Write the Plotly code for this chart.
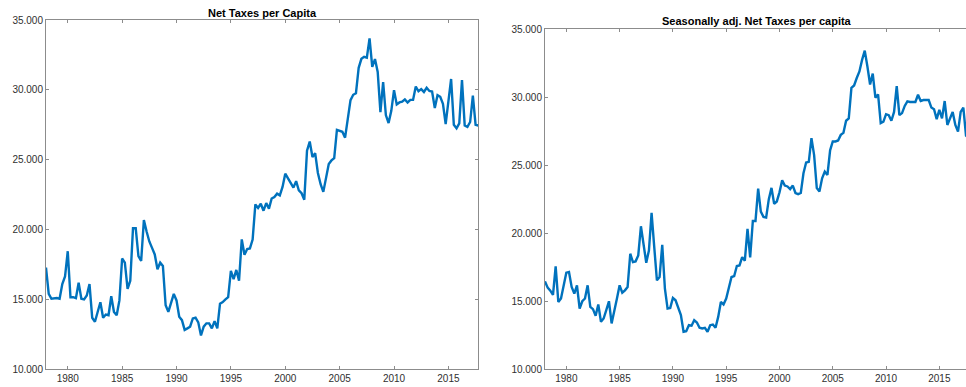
import plotly.graph_objects as go

# Quarterly observations, 1978Q1 .. 2017Q4
start_year = 1978
n_quarters = 160
quarters = [start_year + i / 4 for i in range(n_quarters)]

# Net taxes per capita (raw)
net_taxes = [
    17280, 15400, 15050, 15100,
    15100, 15050, 16100, 16640,
    18450, 15160, 15160, 15090,
    16200, 15050, 15000, 15280,
    16100, 13690, 13400, 14100,
    14800, 13690, 13920, 13870,
    15230, 14100, 13870, 14930,
    17930, 17630, 15750, 16340,
    20100, 20100, 18100, 17750,
    20680, 19860, 19150, 18690,
    18220, 17160, 17630, 17390,
    14580, 14110, 14810, 15400,
    14930, 13760, 13520, 12820,
    12930, 13050, 13640, 13690,
    13360, 12420, 13050, 13290,
    13290, 12930, 13450, 12930,
    14700, 14810, 15000, 15160,
    17040, 16460, 17110, 16340,
    19300, 18200, 18610, 18650,
    19280, 21800, 21550, 21850,
    21350, 21900, 21500, 22220,
    22330, 22570, 22450, 23050,
    24000, 23650, 23300, 23000,
    23470, 22800, 22600, 22140,
    25650, 26300, 25200, 25470,
    24050, 23250, 22700, 23750,
    24700, 24950, 25120, 27140,
    27060, 27000, 26580, 28120,
    29260, 29650, 29760, 31580,
    32220, 32360, 32300, 33680,
    31640, 32200, 31280, 28400,
    30550, 28200, 27620, 28500,
    29980, 28960, 29100, 29150,
    29320, 29100, 29280, 29280,
    30240, 29900, 30050, 29850,
    30150, 29920, 29880, 28700,
    29620, 29500, 29000, 27550,
    29000, 30780, 27500, 27250,
    27600, 30700, 27450, 27350,
    27700, 29580, 27500, 27450,
]

# Net taxes per capita, seasonally adjusted
net_taxes_sa = [
    16460, 16000, 15780, 15460,
    17560, 14950, 15200, 16170,
    17100, 17150, 16050, 15560,
    16170, 14460, 15000, 15200,
    16170, 14590, 14420, 13930,
    14760, 13490, 13730, 14340,
    15000, 13370, 14220, 15200,
    16170, 15630, 15800, 16050,
    18490, 17880, 17930, 18370,
    20510, 19100, 17830, 18730,
    21490, 18980, 16540, 16780,
    19150, 15930, 14460, 14510,
    15240, 15070, 14460, 13980,
    12760, 12800, 13240, 13200,
    13610, 13440, 13050, 13000,
    13050, 12760, 13240, 13290,
    13050, 13850, 14950, 14760,
    15200, 15930, 16780, 16850,
    17590, 17630, 18240, 17980,
    20320, 18220, 20900, 20900,
    23270, 21580, 21200, 21150,
    22500, 23330, 22160, 22330,
    23000, 23880, 23500, 23430,
    23240, 23500, 22950, 22870,
    22950, 24400, 25190, 25240,
    26980, 25730, 23310, 23070,
    24030, 24520, 24280, 26090,
    26740, 26740, 26810, 27220,
    27370, 28260, 28430, 30680,
    30850, 31400, 31880, 32730,
    33410, 32250, 30920, 31720,
    29950, 30190, 28090, 28190,
    28740, 28670, 28260, 28910,
    30800, 28670, 28820, 29350,
    29690, 29640, 29640, 29640,
    30170, 29710, 29780, 29780,
    29780, 29230, 29110, 28380,
    29060, 28430, 29710, 27950,
    28500, 28910, 27950, 27460,
    28910, 29230, 27170, 27000,
]

x_ticks = [1980, 1985, 1990, 1995, 2000, 2005, 2010, 2015]
y_ticks = [10000, 15000, 20000, 25000, 30000, 35000]
titles = ["Net Taxes per Capita", "Seasonally adj. Net Taxes per capita"]

W, H = 966, 387
LINE_BLUE = "#0072BD"
AXIS_GRAY = "#8c8c8c"
TICK_TEXT = "#303030"
FONT = "Liberation Sans, Arial, Helvetica, sans-serif"

fig = go.Figure()
fig.add_trace(go.Scatter(x=quarters, y=net_taxes, mode="lines",
                         line=dict(color=LINE_BLUE, width=2.4),
                         xaxis="x", yaxis="y", hoverinfo="skip"))
fig.add_trace(go.Scatter(x=quarters, y=net_taxes_sa, mode="lines",
                         line=dict(color=LINE_BLUE, width=2.4),
                         xaxis="x2", yaxis="y2", hoverinfo="skip"))

common = dict(
    showline=True, linecolor=AXIS_GRAY, linewidth=1,
    ticks="inside", ticklen=3, tickcolor=AXIS_GRAY, tickwidth=1,
    showgrid=False, zeroline=False, automargin=False,
    tickfont=dict(family=FONT, size=10, color=TICK_TEXT),
)

# panel boxes in pixels (left, right, top, bottom)
left_box = (46, 478.3, 20, 369.3)
right_box = (545, 966, 29, 369.3)


def xdom(b):
    return [b[0] / W, b[1] / W]


def ydom(b):
    return [1 - b[3] / H, 1 - b[2] / H]


fig.update_layout(
    width=W, height=H,
    margin=dict(l=0, r=0, t=0, b=0),
    paper_bgcolor="white", plot_bgcolor="white",
    showlegend=False,
    separators=",.",
    xaxis=dict(common, domain=xdom(left_box), anchor="y", mirror="ticks",
               range=[1978, 2017.75], tickvals=x_ticks),
    yaxis=dict(common, domain=ydom(left_box), anchor="x", mirror="ticks",
               range=[10000, 35000], tickvals=y_ticks, tickformat=",d"),
    xaxis2=dict(common, domain=xdom(right_box), anchor="y2", mirror="ticks",
                range=[1978, 2017.5], tickvals=x_ticks),
    yaxis2=dict(common, domain=ydom(right_box), anchor="x2", mirror=False,
                range=[10000, 35000], tickvals=y_ticks, tickformat=",d"),
)

# panel titles
for title, box, yc in [(titles[0], left_box, 12.7), (titles[1], (545, 968.6, 29, 369.3), 21.3)]:
    fig.add_annotation(
        x=(box[0] + box[1]) / 2 / W, y=1 - yc / H,
        xref="paper", yref="paper", xanchor="center", yanchor="middle",
        text=title, showarrow=False,
        font=dict(family=FONT, size=11, color="black", weight="bold"),
    )

fig.write_html("out.html")
